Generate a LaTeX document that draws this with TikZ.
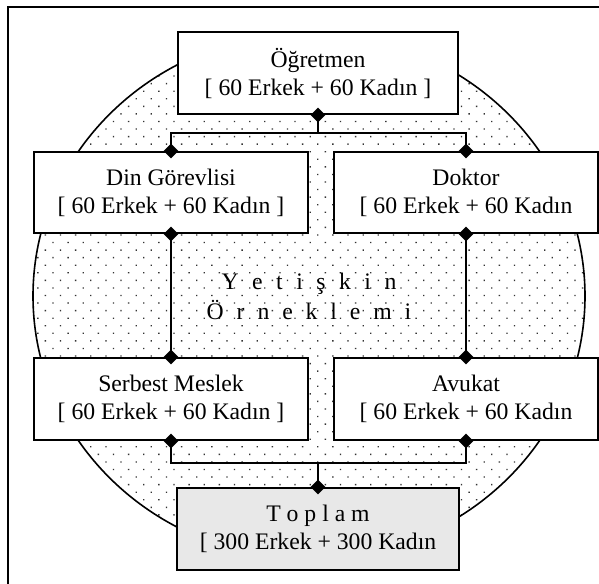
\documentclass[tikz,border=0pt]{standalone}
\usepackage{fontspec}
\setmainfont{Liberation Serif}
\usetikzlibrary{shapes.geometric,patterns.meta}
\tikzset{
  box/.style={draw=black, line width=2pt, fill=white, align=center, inner sep=0pt,
              font=\fontsize{23.7}{28}\selectfont},
  conn/.style={line width=2pt},
  dia/.style={diamond, fill=black, draw=none, minimum size=15pt, inner sep=0pt},
}
\begin{document}
\begin{tikzpicture}[x=1pt,y=-1pt]
\useasboundingbox (0,0) rectangle (599,583);
\clip (0,0) rectangle (599,583);
\fill[white] (0,0) rectangle (599,583);
% outer frame
\draw[line width=1.7pt] (8,7) rectangle (640,640);
% sample ellipse
\fill[white] (309,296) ellipse [x radius=276, y radius=263];
\fill[pattern={Dots[radius=0.95pt, distance=10.7pt, angle=45]}, pattern color=black!80]
  (309,296) ellipse [x radius=276, y radius=263];
\draw[line width=1.6pt] (309,296) ellipse [x radius=276, y radius=263];
% centre text
\node[font=\fontsize{23.7}{30}\selectfont, align=center, inner sep=0pt] (yet) at (309,296)
  {Y\hspace{13.5pt}e\hspace{13.5pt}t\hspace{13.5pt}i\hspace{13.5pt}ş\hspace{13.5pt}k\hspace{13.5pt}i\hspace{13.5pt}n\\
   Ö\hspace{12.9pt}r\hspace{12.9pt}n\hspace{12.9pt}e\hspace{12.9pt}k\hspace{12.9pt}l\hspace{12.9pt}e\hspace{12.9pt}m\hspace{12.9pt}i};
% boxes
\node[box, minimum width=280pt, minimum height=82pt] (ogr) at (318,73)
  {Öğretmen\\{[} 60 Erkek + 60 Kadın ]};
\node[box, minimum width=274pt, minimum height=81pt] (din) at (171,192.5)
  {Din Görevlisi\\{[} 60 Erkek + 60 Kadın ]};
\node[box, minimum width=264pt, minimum height=81pt] (dok) at (466,192.5)
  {Doktor\\{[} 60 Erkek + 60 Kadın};
\node[box, minimum width=274pt, minimum height=82pt] (ser) at (171,399)
  {Serbest Meslek\\{[} 60 Erkek + 60 Kadın ]};
\node[box, minimum width=264pt, minimum height=82pt] (avu) at (466,399)
  {Avukat\\{[} 60 Erkek + 60 Kadın};
\node[box, fill=black!9, minimum width=282pt, minimum height=82pt] (top) at (318,529)
  {T o p l a m\\{[} 300 Erkek + 300 Kadın};
% connectors
\coordinate (j1) at (318,133);
\coordinate (j2) at (318,463);
\draw[conn] (ogr.south) -- (j1);
\draw[conn] (din.north) |- (j1) -| (dok.north);
\draw[conn] (din.south) -- (ser.north);
\draw[conn] (dok.south) -- (avu.north);
\draw[conn] (ser.south) |- (j2) -| (avu.south);
\draw[conn] (j2) -- (top.north);
% diamonds
\foreach \a in {ogr.south, din.north, dok.north, din.south, ser.north,
                dok.south, avu.north, ser.south, avu.south, top.north}
  \node[dia] at (\a) {};
\end{tikzpicture}
\end{document}
